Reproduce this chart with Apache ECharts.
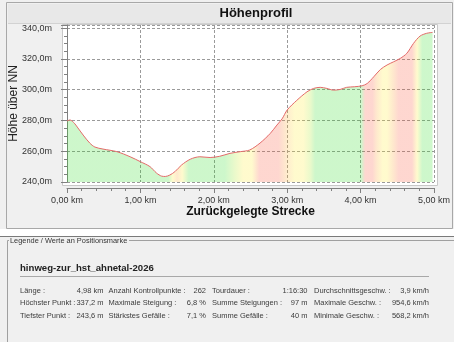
<!DOCTYPE html>
<html>
<head>
<meta charset="utf-8">
<script src="https://cdn.jsdelivr.net/npm/echarts@6/dist/echarts.min.js"></script>
<style>
  html, body { margin: 0; padding: 0; background: #f0f0f0; }
  #chart { width: 454px; height: 342px; }
</style>
</head>
<body>
<div id="chart"></div>
<script>
// Elevation profile of the track: distance along the route (km) and height (m)
const distanceKm = [0, 0.04, 0.10, 0.14, 0.22, 0.31, 0.38, 0.49, 0.68, 0.86, 1.00, 1.13, 1.22, 1.29, 1.34,
  1.40, 1.47, 1.56, 1.68, 1.81, 1.95, 2.08, 2.22, 2.36, 2.49, 2.63, 2.77, 2.86, 2.93, 3.00, 3.13, 3.27,
  3.36, 3.45, 3.54, 3.63, 3.72, 3.81, 3.92, 4.02, 4.09, 4.18, 4.27, 4.36, 4.45, 4.54, 4.63, 4.72, 4.81,
  4.90, 4.98];
const elevationM = [279.6, 280.3, 278.2, 275.7, 270.5, 265.3, 262.7, 261.4, 259.7, 256.4, 253.2, 250.0, 245.8, 243.8, 243.6,
  244.5, 246.7, 251.0, 254.8, 256.4, 255.9, 256.7, 258.6, 259.7, 260.8, 265.3, 271.6, 277.0, 281.0, 286.8, 293.0, 298.6,
  300.8, 301.5, 300.8, 299.7, 300.1, 301.5, 301.9, 302.5, 304.0, 308.4, 313.1, 316.0, 318.1, 320.3, 323.6, 330.0, 334.8,
  336.6, 337.2];

// Gradient class along the route (km, class): g = flat/downhill, l = slight, y = moderate, o = steep, r = steepest
const gradeShading = [
  [0, 'g'], [1.38, 'g'], [1.44, 'y'], [1.50, 'o'], [1.57, 'y'], [1.66, 'g'],
  [2.15, 'g'], [2.28, 'l'], [2.40, 'y'], [2.52, 'y'], [2.62, 'r'], [2.88, 'r'], [2.98, 'o'],
  [3.10, 'y'], [3.22, 'y'], [3.32, 'l'], [3.38, 'g'], [4.01, 'g'], [4.06, 'r'], [4.16, 'r'],
  [4.22, 'o'], [4.30, 'y'], [4.36, 'y'], [4.44, 'o'], [4.52, 'r'], [4.70, 'r'], [4.77, 'y'],
  [4.84, 'g'], [4.98, 'g']
];
const shadePalette = {
  g: 'rgba(40,220,30,0.33)',
  l: 'rgba(160,230,30,0.33)',
  y: 'rgba(255,235,40,0.33)',
  o: 'rgba(252,160,40,0.33)',
  r: 'rgba(250,80,50,0.33)'
};

// Track statistics shown below the chart (four columns, three rows)
const trackName = 'hinweg-zur_hst_ahnetal-2026';
const statLabels = [
  ['Länge :', 'Höchster Punkt :', 'Tiefster Punkt :'],
  ['Anzahl Kontrollpunkte :', 'Maximale Steigung :', 'Stärkstes Gefälle :'],
  ['Tourdauer :', 'Summe Steigungen :', 'Summe Gefälle :'],
  ['Durchschnittsgeschw. :', 'Maximale Geschw. :', 'Minimale Geschw. :']
];
const statValues = [
  ['4,98 km', '337,2 m', '243,6 m'],
  ['262', '6,8 %', '7,1 %'],
  ['1:16:30', '97 m', '40 m'],
  ['3,9 km/h', '954,6 km/h', '568,2 km/h']
];

const FONT = '"Liberation Sans", Arial, sans-serif';
const chart = echarts.init(document.getElementById('chart'), null, { renderer: 'canvas' });

const profile = distanceKm.map((d, i) => [d, elevationM[i]]);
const trackLength = distanceKm[distanceKm.length - 1];
const areaStops = gradeShading.map(([km, cls]) => ({ offset: km / trackLength, color: shadePalette[cls] }));

// Panel frames, backgrounds and the statistics block
const graphics = [
  { type: 'rect', z: -20, shape: { x: 6.5, y: 2.5, width: 446, height: 226 },
    style: { fill: '#f0f0f0', stroke: '#a8a8a8', lineWidth: 1 } },
  { type: 'rect', z: -19, shape: { x: 8, y: 4, width: 443, height: 19 }, style: { fill: '#e8e8e8' } },
  { type: 'line', z: -19, shape: { x1: 8, y1: 23.5, x2: 451, y2: 23.5 }, style: { stroke: '#d2d2d2', lineWidth: 1 } },
  { type: 'rect', z: -18, shape: { x: 62.5, y: 24.5, width: 375, height: 161 },
    style: { fill: '#ffffff', stroke: '#c8c8c8', lineWidth: 1 } },
  { type: 'rect', z: -20, shape: { x: 0, y: 229, width: 454, height: 7 }, style: { fill: '#ffffff' } },
  { type: 'line', z: -19, shape: { x1: 0, y1: 236.5, x2: 454, y2: 236.5 }, style: { stroke: '#7a7a7a', lineWidth: 1 } },
  { type: 'polyline', z: -19, shape: { points: [[9, 240.5], [7.5, 240.5], [7.5, 342]] },
    style: { stroke: '#a0a0a0', lineWidth: 1, fill: null } },
  { type: 'line', z: -19, shape: { x1: 129, y1: 240.5, x2: 454, y2: 240.5 }, style: { stroke: '#a0a0a0', lineWidth: 1 } },
  { type: 'text', z: 10, x: 10, y: 240.5,
    style: { text: 'Legende / Werte an Positionsmarke', fill: '#333', font: '7.4px ' + FONT, textVerticalAlign: 'middle' } },
  { type: 'text', z: 10, x: 20, y: 268,
    style: { text: trackName, fill: '#222', font: 'bold 9.6px ' + FONT, textVerticalAlign: 'middle' } },
  { type: 'line', z: -19, shape: { x1: 20, y1: 276.5, x2: 429, y2: 276.5 }, style: { stroke: '#a8a8a8', lineWidth: 1 } }
];

const labelX = [20, 108.5, 212, 314];
const valueRight = [103.5, 206, 307.5, 429];
const rowY = [290.5, 303, 315.5];
statLabels.forEach((col, c) => {
  col.forEach((txt, r) => {
    graphics.push({ type: 'text', z: 10, x: labelX[c], y: rowY[r],
      style: { text: txt, fill: '#3c3c3c', font: '7.5px ' + FONT, textVerticalAlign: 'middle' } });
    graphics.push({ type: 'text', z: 10, x: valueRight[c], y: rowY[r],
      style: { text: statValues[c][r], fill: '#3c3c3c', font: '7.5px ' + FONT, textAlign: 'right', textVerticalAlign: 'middle' } });
  });
});

const gridDash = { type: [3, 2], color: '#9a9a9a', width: 1 };

chart.setOption({
  animation: false,
  backgroundColor: 'transparent',
  title: {
    text: 'Höhenprofil', left: 256, top: 6.5, padding: 0, textAlign: 'center',
    textStyle: { fontFamily: FONT, fontSize: 13, fontWeight: 'bold', color: '#111' }
  },
  grid: { left: 67, right: 20, top: 25, bottom: 160, containLabel: false, outerBoundsMode: 'none' },
  xAxis: {
    type: 'value', min: 0, max: 5, interval: 1, offset: 6,
    name: 'Zurückgelegte Strecke', nameLocation: 'middle', nameGap: 18, nameMoveOverlap: false,
    nameTextStyle: { fontFamily: FONT, fontSize: 12, fontWeight: 'bold', color: '#111' },
    axisLine: { show: true, lineStyle: { color: '#808080' } },
    axisTick: { show: true, length: 5, lineStyle: { color: '#808080' } },
    minorTick: { show: true, splitNumber: 5, length: 3, lineStyle: { color: '#808080' } },
    axisLabel: { fontFamily: FONT, fontSize: 9, color: '#333', margin: 8,
      formatter: v => v.toFixed(2).replace('.', ',') + ' km' },
    splitLine: { show: true, lineStyle: gridDash }
  },
  yAxis: {
    type: 'value', min: 240, max: 342, interval: 20, offset: 7,
    name: 'Höhe über NN', nameLocation: 'middle', nameRotate: 90, nameGap: 40, nameMoveOverlap: false,
    nameTextStyle: { fontFamily: FONT, fontSize: 12, color: '#222' },
    axisLine: { show: true, lineStyle: { color: '#808080' } },
    axisTick: { show: true, length: 6, lineStyle: { color: '#808080' } },
    minorTick: { show: true, splitNumber: 4, length: 3, lineStyle: { color: '#808080' } },
    axisLabel: { fontFamily: FONT, fontSize: 9, color: '#333', margin: 8,
      formatter: v => v.toFixed(1).replace('.', ',') + 'm' },
    splitLine: { show: true, lineStyle: gridDash }
  },
  series: [{
    type: 'line',
    data: profile,
    smooth: 0.3,
    showSymbol: false,
    lineStyle: { color: '#e46a6a', width: 1 },
    areaStyle: { origin: 'start', color: new echarts.graphic.LinearGradient(0, 0, 1, 0, areaStops) },
    z: 3
  }],
  graphic: graphics
});
</script>
</body>
</html>
